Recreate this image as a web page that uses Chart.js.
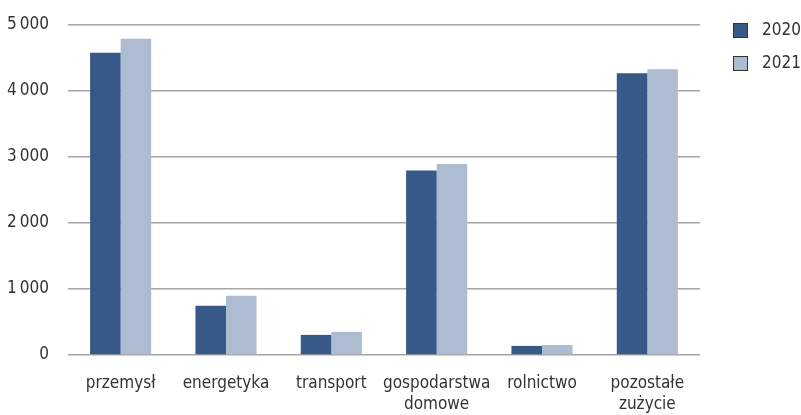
<!DOCTYPE html>
<html>
<head>
<meta charset="utf-8">
<script src="https://cdn.jsdelivr.net/npm/chart.js@4/dist/chart.umd.min.js"></script>
<style>
html,body{margin:0;padding:0;background:#fff;}
#wrap{width:801px;height:415px;position:relative;}
</style>
</head>
<body>
<div id="wrap"><canvas id="c" width="801" height="415"></canvas></div>
<script>
const categories = ["przemysł", "energetyka", "transport", ["gospodarstwa", "domowe"], "rolnictwo", ["pozostałe", "zużycie"]];
const seriesNames = ["2020", "2021"];
const values2020 = [4580, 745, 305, 2795, 138, 4270];
const values2021 = [4790, 897, 350, 2893, 152, 4330];
const yTicks = [0, 1000, 2000, 3000, 4000, 5000];

const FONT = "'DejaVu Sans Condensed', 'Liberation Sans', sans-serif";
const TEXT = '#333333';
const X_FONT_SIZE = 17, X_LINE_H = 1.235, X_PAD = 18;

const sideLegend = {
  id: 'sideLegend',
  afterDraw(chart) {
    const ctx = chart.ctx;
    ctx.save();
    ctx.font = "17px " + FONT;
    ctx.textBaseline = 'middle';
    ctx.textAlign = 'left';
    chart.data.datasets.forEach((d, i) => {
      const cy = 30 + i * 33;
      const bx = 733.5, by = cy - 7;
      ctx.fillStyle = d.backgroundColor;
      ctx.fillRect(bx, by, 14, 14);
      ctx.strokeStyle = '#333';
      ctx.lineWidth = 1;
      ctx.strokeRect(bx, by + 0.5, 14, 14);
      ctx.fillStyle = TEXT;
      ctx.fillText(d.label, 762, cy + 1);
    });
    ctx.restore();
  }
};

new Chart(document.getElementById('c'), {
  type: 'bar',
  data: {
    labels: categories,
    datasets: [
      {label: seriesNames[0], data: values2020, backgroundColor: '#365988', borderWidth: 0},
      {label: seriesNames[1], data: values2021, backgroundColor: '#adbcd1', borderWidth: 0}
    ]
  },
  plugins: [sideLegend],
  options: {
    responsive: false,
    animation: false,
    devicePixelRatio: 1,
    layout: {padding: {top: 25, right: 101, left: 7, bottom: 0}},
    datasets: {bar: {categoryPercentage: 0.58, barPercentage: 1}},
    plugins: {
      tooltip: {enabled: false},
      legend: {display: false}
    },
    scales: {
      x: {
        grid: {display: false, drawTicks: false},
        border: {display: false},
        afterFit: (scale) => { scale.height = X_PAD + 2 * X_FONT_SIZE * X_LINE_H; },
        ticks: {font: {family: FONT, size: X_FONT_SIZE, lineHeight: X_LINE_H}, color: TEXT, padding: X_PAD, maxRotation: 0, autoSkip: false}
      },
      y: {
        min: 0, max: 5000,
        afterBuildTicks: (axis) => { axis.ticks = yTicks.map(v => ({value: v})); },
        grid: {color: '#a6a6a6', lineWidth: 1.5, drawTicks: true, tickLength: 19, tickColor: 'rgba(0,0,0,0)'},
        border: {display: false},
        ticks: {
          font: {family: FONT, size: 17}, color: TEXT, padding: 0,
          callback: (v) => v === 0 ? '0' : (v / 1000) + '\u2009000'
        }
      }
    }
  }
});
</script>
</body>
</html>
